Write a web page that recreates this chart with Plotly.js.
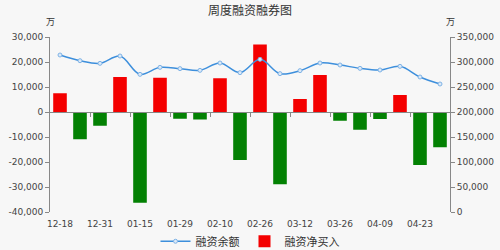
<!DOCTYPE html>
<html>
<head>
<meta charset="utf-8">
<script src="https://cdn.plot.ly/plotly-3.0.1.min.js"></script>
<style>
  html, body { margin: 0; padding: 0; background: #f7f7f7; }
  #chart { width: 500px; height: 250px; }
</style>
</head>
<body>
<div id="chart"></div>
<script>
// Weekly dates
const weeks = ['12-18','12-25','12-31','01-08','01-15','01-22','01-29','02-05','02-10','02-19',
               '02-26','03-05','03-12','03-19','03-26','04-02','04-09','04-16','04-23','04-30'];

// Net margin buying (万), left axis
const netBuy = [7500, -10900, -5500, 14000, -36300, 13700, -2700, -3000, 13500, -19200,
                27000, -28900, 5200, 14800, -3500, -7100, -2800, 6800, -21200, -14100];

// Margin balance (万), right axis
const balance = [314000, 302600, 297300, 312000, 275300, 289300, 286700, 283300, 298000, 278700,
                 305300, 276700, 282700, 298000, 294000, 287300, 284000, 291300, 270000, 256000];

const leftTicks = [-40000, -30000, -20000, -10000, 0, 10000, 20000, 30000];
const rightTicks = [0, 50000, 100000, 150000, 200000, 250000, 300000, 350000];

const fmt = v => v.toLocaleString('en-US');
const leftRange = [leftTicks[0], leftTicks[leftTicks.length - 1]];
const rightRange = [rightTicks[0], rightTicks[rightTicks.length - 1]];

const barColors = netBuy.map(v => v >= 0 ? '#f40000' : '#038103');

const axisFont = { family: 'DejaVu Sans, sans-serif', size: 9, color: '#444' };

const traces = [
  {
    type: 'scatter', mode: 'lines+markers', name: '融资余额',
    x: weeks, y: balance, yaxis: 'y2',
    line: { color: '#3d8fdc', width: 1.5, shape: 'spline', smoothing: 1 },
    marker: { symbol: 'circle', size: 4, color: '#dbe9f8', line: { color: '#7fb3e6', width: 1 } },
    cliponaxis: false
  },
  {
    type: 'bar', name: '融资净买入',
    x: weeks, y: netBuy, yaxis: 'y',
    marker: { color: barColors },
    width: 0.68
  }
];

// Zero baseline with boundary ticks every two weeks
const boundaryTicks = weeks.map((_, i) => i + 1.5).filter((_, i) => i % 2 === 0 && i < weeks.length - 2);
const zeroPos = (0 - leftRange[0]) / (leftRange[1] - leftRange[0]);

const layout = {
  width: 500, height: 250,
  paper_bgcolor: '#f7f7f7', plot_bgcolor: '#f7f7f7',
  margin: { l: 50, r: 50, t: 37, b: 38, autoexpand: false },
  showlegend: true,
  title: {
    text: '周度融资融券图',
    font: { family: 'Noto Sans CJK SC, sans-serif', size: 12, color: '#333' },
    x: 0.5, xanchor: 'center', xref: 'container',
    y: 0.958, yanchor: 'middle', yref: 'container'
  },
  legend: {
    orientation: 'h', x: 0.5, xanchor: 'center',
    y: 0.035, yanchor: 'middle', yref: 'container',
    font: { family: 'Noto Sans CJK SC, sans-serif', size: 11, color: '#333' },
    bgcolor: 'rgba(0,0,0,0)', itemwidth: 30, traceorder: 'normal'
  },
  bargap: 0.32,
  xaxis: {
    type: 'category', range: [-0.5, weeks.length - 0.5],
    tickmode: 'array', tickvals: weeks.filter((_, i) => i % 2 === 0),
    showline: false, showgrid: false, zeroline: false, ticks: '',
    ticklabelstandoff: 5,
    tickfont: axisFont, fixedrange: true
  },
  xaxis2: {
    overlaying: 'x', anchor: 'free', position: zeroPos, side: 'bottom',
    range: [-0.5, weeks.length - 0.5],
    tickmode: 'array', tickvals: boundaryTicks, showticklabels: false,
    showline: true, linecolor: '#888', linewidth: 1,
    ticks: 'outside', ticklen: 4, tickcolor: '#888',
    showgrid: false, zeroline: false
  },
  yaxis: {
    range: leftRange, tickmode: 'array', tickvals: leftTicks, ticktext: leftTicks.map(fmt),
    showline: true, linecolor: '#888', linewidth: 1, ticks: 'outside', ticklen: 4, tickcolor: '#888',
    showgrid: false, zeroline: false, tickfont: axisFont
  },
  yaxis2: {
    overlaying: 'y', side: 'right', range: rightRange,
    tickmode: 'array', tickvals: rightTicks, ticktext: rightTicks.map(fmt),
    showline: true, linecolor: '#888', linewidth: 1, ticks: 'outside', ticklen: 4, tickcolor: '#888',
    showgrid: false, zeroline: false, tickfont: axisFont
  },
  annotations: [
    { text: '万', xref: 'paper', yref: 'paper', x: 0, y: 1, xanchor: 'center', yanchor: 'bottom', yshift: 7,
      showarrow: false, font: { family: 'Noto Sans CJK SC, sans-serif', size: 9, color: '#333' } },
    { text: '万', xref: 'paper', yref: 'paper', x: 1, y: 1, xanchor: 'center', yanchor: 'bottom', yshift: 7,
      showarrow: false, font: { family: 'Noto Sans CJK SC, sans-serif', size: 9, color: '#333' } }
  ]
};

// Placeholder trace so the zero-line axis is drawn
traces.push({ type: 'scatter', x: [0], y: [0], xaxis: 'x2', yaxis: 'y', mode: 'none',
              showlegend: false, hoverinfo: 'skip' });

Plotly.newPlot('chart', traces, layout, { displayModeBar: false, staticPlot: true });
</script>
</body>
</html>
